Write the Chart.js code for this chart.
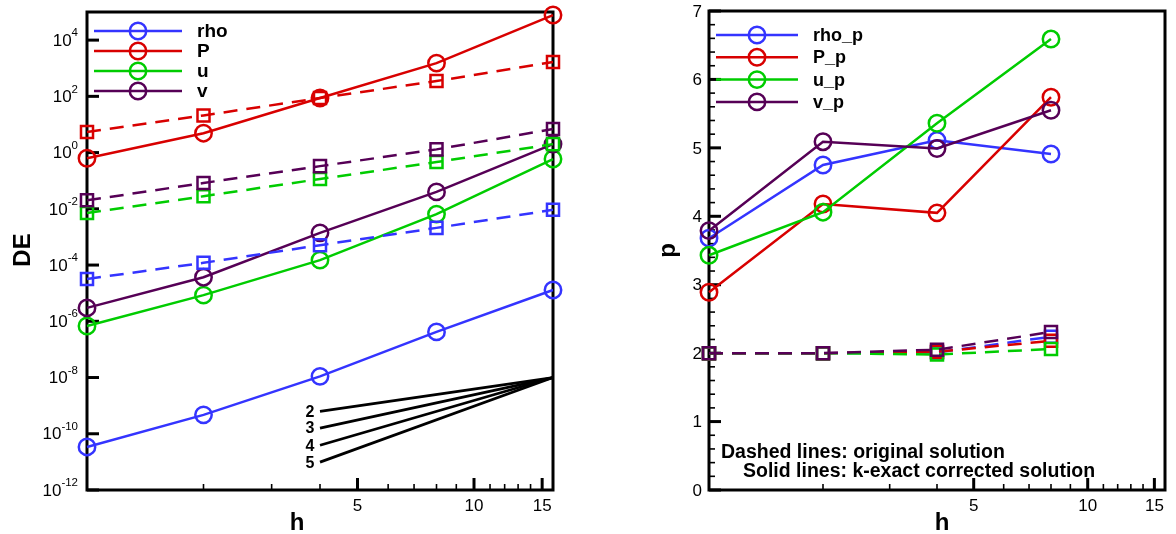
<!DOCTYPE html>
<html><head><meta charset="utf-8">
<script src="https://cdn.jsdelivr.net/npm/chart.js@4/dist/chart.umd.min.js"></script>
<style>
html,body{margin:0;padding:0;background:#fff;}
#wrap{position:relative;width:1176px;height:534px;overflow:hidden;}
.c{position:absolute;top:0;width:588px;height:534px;}
</style></head><body>
<div id="wrap">
<div class="c" style="left:0"><canvas id="left" width="588" height="534"></canvas></div>
<div class="c" style="left:588px"><canvas id="right" width="588" height="534"></canvas></div>
</div>
<script>
// ---------- data ----------
const H = [1, 2, 4, 8, 16];
const H_RIGHT = [1, 2, 4, 8];

const rhoSolid  = [3.4e-11, 4.7e-10, 1.1e-8, 4.2e-7, 1.3e-5];
const rhoDashed = [3.2e-5, 1.2e-4, 5.1e-4, 2.1e-3, 9.2e-3];
const pSolid    = [0.63, 4.9, 87, 1520, 7.8e4];
const pDashed   = [5.4, 21, 87, 350, 1660];
const uSolid    = [6.8e-7, 8.5e-6, 1.5e-4, 6.5e-3, 0.59];
const uDashed   = [0.0071, 0.028, 0.115, 0.46, 2.0];
const vSolid    = [3.0e-6, 3.7e-5, 1.4e-3, 0.040, 2.0];
const vDashed   = [0.020, 0.083, 0.33, 1.3, 6.9];

const slopeOrders = ['2', '3', '4', '5'];
const slopeH = [4, 16];
const slopeStart = [6.3e-10, 1.6e-10, 3.9e-11, 9.8e-12];
const slopeEnd = 1.0e-8;

const rhoP  = [3.68, 4.75, 5.11, 4.91];
const PP    = [2.89, 4.18, 4.05, 5.74];
const uP    = [3.43, 4.06, 5.36, 6.59];
const vP    = [3.79, 5.09, 4.99, 5.55];
const rhoP0 = [2.0, 2.0, 2.01, 2.24];
const PP0   = [2.0, 2.0, 2.02, 2.18];
const uP0   = [2.0, 2.0, 1.98, 2.06];
const vP0   = [2.0, 2.0, 2.05, 2.31];

const xMajorTicks = [5, 10, 15];
const xMinorTicks = [2, 3, 4, 6, 7, 8, 9, 11, 12, 13, 14];
const yLogExponents = [-12, -10, -8, -6, -4, -2, 0, 2, 4];
const yLinMajor = [0, 1, 2, 3, 4, 5, 6, 7];

const leftNames = ['rho', 'P', 'u', 'v'];
const rightNames = ['rho_p', 'P_p', 'u_p', 'v_p'];
const notes = ['Dashed lines: original solution', 'Solid lines: k-exact corrected solution'];

// ---------- style ----------
const BLUE = '#3434ff', RED = '#d80000', GREEN = '#00cc00', PURPLE = '#560056';
const FONT = '"Liberation Sans", Arial, sans-serif';

function pts(xs, ys) { return xs.map((x, i) => ({x: x, y: ys[i]})); }
function solid(label, xs, ys, color, ord) {
  return {label, data: pts(xs, ys), borderColor: color, backgroundColor: 'rgba(0,0,0,0)',
    borderWidth: 2.5, pointStyle: 'circle', pointRadius: 8.2, pointBorderWidth: 2.5,
    pointBackgroundColor: 'rgba(0,0,0,0)', pointBorderColor: color, clip: false,
    showInLegend: true, tension: 0, order: ord};
}
function dashed(label, xs, ys, color, ord) {
  return {label, data: pts(xs, ys), borderColor: color, backgroundColor: 'rgba(0,0,0,0)',
    borderWidth: 2.5, borderDash: [14, 9], pointStyle: 'rect', pointRadius: 8.5, pointBorderWidth: 2.5,
    pointBackgroundColor: 'rgba(0,0,0,0)', pointBorderColor: color, clip: false, tension: 0, order: ord};
}

const tecplot = {
  id: 'tecplot',
  beforeDatasetsDraw(chart, args, o) {
    const ctx = chart.ctx, a = chart.chartArea, xs = chart.scales.x, ys = chart.scales.y;
    ctx.save();
    ctx.strokeStyle = '#000';
    const seg = (x1, y1, x2, y2, w) => { ctx.lineWidth = w; ctx.beginPath(); ctx.moveTo(x1, y1); ctx.lineTo(x2, y2); ctx.stroke(); };
    xMajorTicks.forEach(v => { const x = xs.getPixelForValue(v); seg(x, a.bottom, x, a.bottom - 12, 3); });
    xMinorTicks.forEach(v => { const x = xs.getPixelForValue(v); seg(x, a.bottom, x, a.bottom - 6, 1.6); });
    if (o.logY) {
      yLogExponents.forEach(e => { const y = ys.getPixelForValue(Math.pow(10, e)); seg(a.left, y, a.left + 12, y, 3); });
    } else {
      yLinMajor.forEach(v => { const y = ys.getPixelForValue(v); seg(a.left, y, a.left + 12, y, 3); });
      for (let k = 1; k < 35; k++) { if (k % 5 === 0) continue; const y = ys.getPixelForValue(k * 0.2); seg(a.left, y, a.left + 6, y, 1.6); }
    }
    ctx.lineWidth = 3;
    ctx.strokeRect(a.left, a.top, a.right - a.left, a.bottom - a.top);
    ctx.restore();
  },
  afterDatasetsDraw(chart, args, o) {
    const ctx = chart.ctx, a = chart.chartArea, xs = chart.scales.x, ys = chart.scales.y;
    ctx.save();
    ctx.fillStyle = '#000';
    ctx.font = '17px ' + FONT; ctx.textAlign = 'center'; ctx.textBaseline = 'middle';
    xMajorTicks.forEach(v => ctx.fillText(String(v), xs.getPixelForValue(v), a.bottom + 16));
    if (o.logY) {
      yLogExponents.forEach(e => {
        const y = ys.getPixelForValue(Math.pow(10, e));
        const ex = String(e);
        ctx.font = '11.5px ' + FONT; const we = ctx.measureText(ex).width;
        ctx.textAlign = 'left';
        const xr = a.left - 9;
        ctx.fillText(ex, xr - we, y - 7);
        ctx.font = '17px ' + FONT; ctx.textAlign = 'right';
        ctx.fillText('10', xr - we, y + 1);
      });
    } else {
      ctx.font = '17px ' + FONT; ctx.textAlign = 'right';
      yLinMajor.forEach(v => ctx.fillText(String(v), a.left - 7, ys.getPixelForValue(v) + 1));
    }
    ctx.font = 'bold 24px ' + FONT; ctx.textAlign = 'center';
    ctx.fillText('h', (a.left + a.right) / 2 + o.hShift, a.bottom + 33);
    ctx.save(); ctx.translate(o.yTitleX, (a.top + a.bottom) / 2 + o.yTitleShift); ctx.rotate(-Math.PI / 2);
    ctx.fillText(o.yTitle, 0, 0); ctx.restore();
    const items = chart.data.datasets.filter(d => d.showInLegend);
    items.forEach((d, i) => {
      const y = a.top + o.legTop + i * o.legStep;
      const x0 = a.left + o.legX;
      ctx.strokeStyle = d.borderColor; ctx.lineWidth = 2.5; ctx.setLineDash([]);
      ctx.beginPath(); ctx.moveTo(x0, y); ctx.lineTo(x0 + o.legLen, y); ctx.stroke();
      ctx.beginPath(); ctx.arc(x0 + o.legLen / 2, y, 8.2, 0, Math.PI * 2); ctx.stroke();
      ctx.fillStyle = '#000'; ctx.font = 'bold ' + o.legFont + 'px ' + FONT; ctx.textAlign = 'left';
      ctx.fillText(d.label, x0 + o.legLen + 15, y + 1);
    });
    chart.data.datasets.filter(d => d.slopeLabel).forEach(d => {
      ctx.font = 'bold 16px ' + FONT; ctx.textAlign = 'center'; ctx.fillStyle = '#000';
      ctx.fillText(d.slopeLabel, xs.getPixelForValue(d.data[0].x) - 10, ys.getPixelForValue(d.data[0].y) + 1);
    });
    if (o.notes) {
      ctx.font = 'bold 19.5px ' + FONT; ctx.textAlign = 'left'; ctx.fillStyle = '#000';
      ctx.fillText(o.notes[0], a.left + 12, a.bottom - 37);
      ctx.fillText(o.notes[1], a.left + 34, a.bottom - 18);
    }
    ctx.restore();
  }
};

function baseOptions(pad, yScale, plug) {
  return {
    responsive: false, animation: false, devicePixelRatio: 1,
    layout: {padding: pad},
    scales: {
      x: {type: 'logarithmic', min: 1, max: 16, display: false},
      y: Object.assign({display: false}, yScale)
    },
    plugins: {legend: {display: false}, tooltip: {enabled: false}, tecplot: plug}
  };
}

const leftSets = [
  solid(leftNames[0], H, rhoSolid, BLUE, 8),
  solid(leftNames[1], H, pSolid, RED, 7),
  solid(leftNames[2], H, uSolid, GREEN, 6),
  solid(leftNames[3], H, vSolid, PURPLE, 5),
  dashed(leftNames[0] + ' (orig)', H, rhoDashed, BLUE, 4),
  dashed(leftNames[1] + ' (orig)', H, pDashed, RED, 3),
  dashed(leftNames[2] + ' (orig)', H, uDashed, GREEN, 2),
  dashed(leftNames[3] + ' (orig)', H, vDashed, PURPLE, 1)
];
slopeOrders.forEach((s, i) => {
  leftSets.push({label: 'slope ' + s, slopeLabel: s,
    data: [{x: slopeH[0], y: slopeStart[i]}, {x: slopeH[1], y: slopeEnd}],
    borderColor: '#000', borderWidth: 2.8, pointRadius: 0, clip: false, order: 0});
});

new Chart(document.getElementById('left'), {
  type: 'line',
  data: {datasets: leftSets},
  options: baseOptions({left: 87, right: 35, top: 12, bottom: 44},
    {type: 'logarithmic', min: 1e-12, max: 1e5},
    {logY: true, yTitle: 'DE', yTitleX: 23, yTitleShift: -1, hShift: -23,
     legTop: 19, legStep: 20, legX: 7, legLen: 88, legFont: 19}),
  plugins: [tecplot]
});

const rightSets = [
  solid(rightNames[0], H_RIGHT, rhoP, BLUE, 8),
  solid(rightNames[1], H_RIGHT, PP, RED, 7),
  solid(rightNames[2], H_RIGHT, uP, GREEN, 6),
  solid(rightNames[3], H_RIGHT, vP, PURPLE, 5),
  dashed(rightNames[0] + ' (orig)', H_RIGHT, rhoP0, BLUE, 4),
  dashed(rightNames[1] + ' (orig)', H_RIGHT, PP0, RED, 3),
  dashed(rightNames[2] + ' (orig)', H_RIGHT, uP0, GREEN, 2),
  dashed(rightNames[3] + ' (orig)', H_RIGHT, vP0, PURPLE, 1)
];

new Chart(document.getElementById('right'), {
  type: 'line',
  data: {datasets: rightSets},
  options: baseOptions({left: 121, right: 2, top: 11, bottom: 44},
    {type: 'linear', min: 0, max: 7},
    {logY: false, yTitle: 'p', yTitleX: 80, yTitleShift: 0, hShift: 5,
     legTop: 24, legStep: 22.3, legX: 7, legLen: 82, legFont: 18, notes: notes}),
  plugins: [tecplot]
});
</script>
</body></html>
